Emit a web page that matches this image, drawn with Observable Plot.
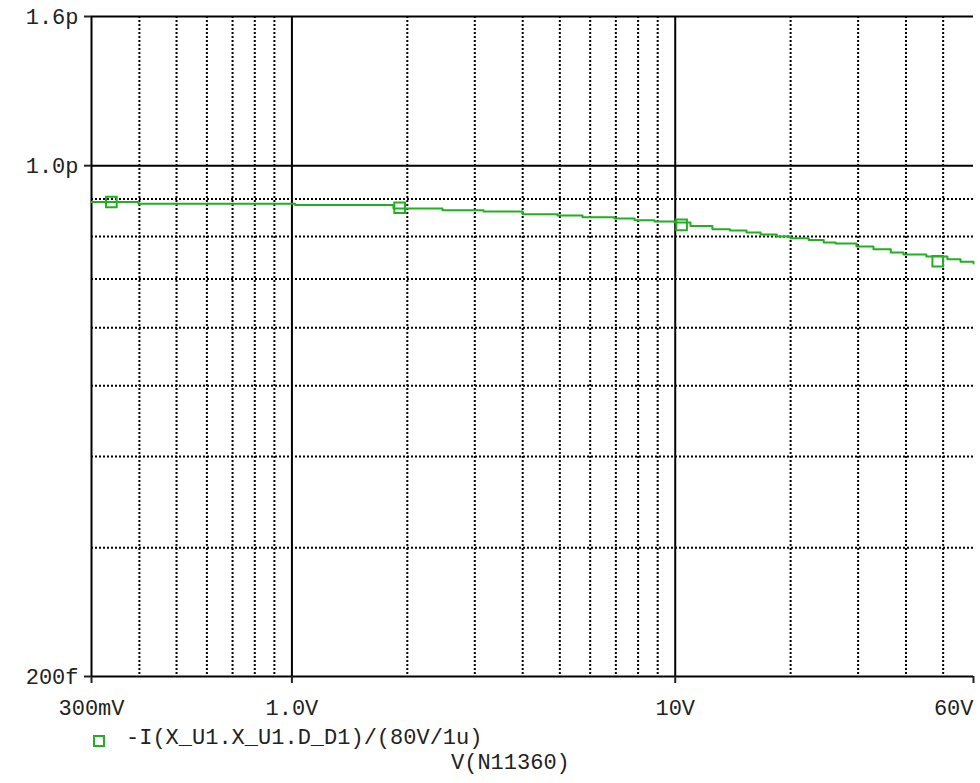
<!DOCTYPE html>
<html>
<head>
<meta charset="utf-8">
<script src="https://cdn.jsdelivr.net/npm/d3@7"></script>
<script src="https://cdn.jsdelivr.net/npm/@observablehq/plot@0.6"></script>
<style>
  html, body { margin: 0; padding: 0; background: #fff; }
  #wrap { position: relative; width: 980px; height: 783px; font-family: "Liberation Mono", "Courier New", monospace; font-size: 22px; color: #222; }
  #legend { position: absolute; left: 93px; top: 728px; line-height: 22px; white-space: pre; }
  #legend .sym { position: absolute; left: 0; top: 7px; width: 8px; height: 8px; border: 2px solid #20b020; }
  #legend .txt { position: absolute; left: 33px; top: 0; }
  #xtitle { position: absolute; left: 451px; top: 753px; line-height: 22px; white-space: pre; }
</style>
</head>
<body>
<div id="wrap">
  <div id="chart"></div>
  <div id="legend"><span class="sym"></span><span class="txt">-I(X_U1.X_U1.D_D1)/(80V/1u)</span></div>
  <div id="xtitle">V(N11360)</div>
</div>
<script>
// X axis (volts)
const xTickValues = [0.3, 1, 10, 60];
const xTickLabels = ["300mV", "1.0V", "10V", "60V"];
const xMinor = [0.4, 0.5, 0.6, 0.7, 0.8, 0.9, 2, 3, 4, 5, 6, 7, 8, 9, 20, 30, 40, 50];
const xMajor = [1, 10];

// Y axis (pico units)
const yTickValues = [0.2, 1.0, 1.6];
const yTickLabels = ["200f", "1.0p", "1.6p"];
const yMinor = [0.3, 0.4, 0.5, 0.6, 0.7, 0.8, 0.9];
const yMajor = [1.0];

// Trace: -I(X_U1.X_U1.D_D1)/(80V/1u), points where each step level begins
const voltage = [0.3, 0.398, 1.02, 1.84, 2.47, 3.16, 4.0, 4.93, 5.73, 6.94, 7.83, 8.83, 10.0, 10.96, 12.5, 13.9, 15.35, 16.7, 18.4, 20.0, 22.3, 24.4, 26.2, 29.7, 32.9, 36.5, 39.4, 45.2, 51.3, 55.5, 60];
const value   = [0.892, 0.887, 0.8836, 0.874, 0.869, 0.8656, 0.858, 0.8547, 0.850, 0.8466, 0.842, 0.839, 0.8358, 0.827, 0.8185, 0.815, 0.810, 0.805, 0.800, 0.7957, 0.791, 0.785, 0.7825, 0.775, 0.7685, 0.7605, 0.7557, 0.751, 0.7445, 0.739, 0.735];

// Trace markers
const markerV = [0.338, 1.91, 10.39, 48.4];
const markerY = [0.892, 0.876, 0.830, 0.740];

const green = "#20b020";
const trace = voltage.map((v, i) => ({x: v, y: value[i]}));
const markers = markerV.map((v, i) => ({x: v, y: markerY[i]}));
const lastX = xTickValues[xTickValues.length - 1];
const xLabel = d => (d === lastX ? "" : xTickLabels[xTickValues.indexOf(d)]);
const yLabel = d => yTickLabels[yTickValues.indexOf(d)];

const chart = Plot.plot({
  width: 980,
  height: 720,
  marginLeft: 91,
  marginRight: 7,
  marginTop: 16,
  marginBottom: 44,
  x: {type: "log", domain: [0.3, 60]},
  y: {type: "log", domain: [0.2, 1.6]},
  style: {fontFamily: "'Liberation Mono', 'Courier New', monospace", fontSize: "22px", background: "#fff", color: "#222", overflow: "visible"},
  marks: [
    Plot.ruleX(xMinor, {stroke: "#000", strokeWidth: 2, strokeDasharray: "2,2"}),
    Plot.ruleY(yMinor, {stroke: "#000", strokeWidth: 2, strokeDasharray: "2,2"}),
    Plot.ruleX(xMajor, {stroke: "#000", strokeWidth: 2}),
    Plot.ruleY(yMajor, {stroke: "#000", strokeWidth: 2}),
    Plot.ruleX([0.3], {stroke: "#000", strokeWidth: 2}),
    Plot.ruleY([0.2, 1.6], {stroke: "#000", strokeWidth: 2}),
    Plot.axisX({ticks: xTickValues, tickFormat: xLabel, tickSize: 7, tickPadding: 16, strokeWidth: 2, label: null}),
    Plot.text([lastX], {x: d => d, text: d => xTickLabels[xTickValues.indexOf(d)], frameAnchor: "bottom", textAnchor: "end", lineAnchor: "top", dy: 23, fill: "#222"}),
    Plot.axisY({ticks: yTickValues, tickFormat: yLabel, tickSize: 7, tickPadding: 6, strokeWidth: 2, label: null}),
    Plot.line(trace, {x: "x", y: "y", curve: "step-after", stroke: green, strokeWidth: 2}),
    Plot.dot(markers, {x: "x", y: "y", symbol: "square", r: 6, stroke: green, fill: "none", strokeWidth: 2})
  ]
});
document.getElementById("chart").appendChild(chart);
</script>
</body>
</html>
